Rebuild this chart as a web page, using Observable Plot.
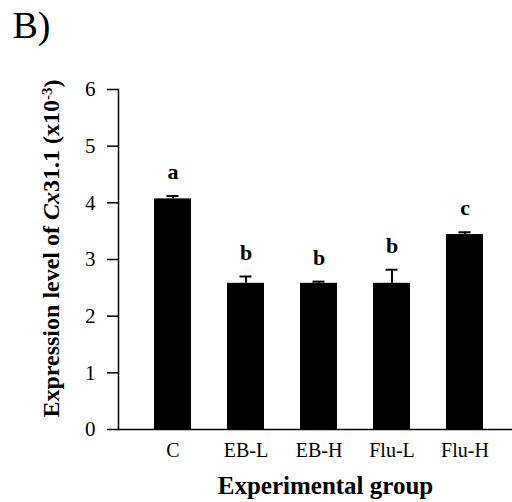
<!DOCTYPE html>
<html><head><meta charset="utf-8">
<script src="https://cdn.jsdelivr.net/npm/d3@7"></script>
<script src="https://cdn.jsdelivr.net/npm/@observablehq/plot@0.6"></script>
<style>body{margin:0;background:#fff} svg{display:block}</style>
</head><body><div id="chart"></div>
<script>
const groups = ["C", "EB-L", "EB-H", "Flu-L", "Flu-H"];
const means = [4.07, 2.58, 2.58, 2.58, 3.44];
const errors = [0.05, 0.12, 0.03, 0.24, 0.04];
const letters = ["a", "b", "b", "b", "c"];
const yTicks = [0, 1, 2, 3, 4, 5, 6];
const panelLabel = "B)";
const xTitle = "Experimental group";
const yTitle = "Expression level of Cx31.1 (x10-3)";

const data = groups.map((g, i) => ({group: g, mean: means[i], err: errors[i], top: means[i] + errors[i], letter: letters[i]}));

const chart = Plot.plot({
  width: 512,
  height: 502,
  marginLeft: 118,
  marginRight: 0,
  marginTop: 89,
  marginBottom: 73,
  style: {fontFamily: "'Liberation Serif', 'Times New Roman', serif", color: "black", background: "white"},
  x: {domain: groups, paddingInner: 0.497, paddingOuter: 0.43, align: 0.556, label: null},
  y: {domain: [0, 6], label: null},
  marks: [
    Plot.barY(data, {x: "group", y: "mean", fill: "black"}),
    Plot.ruleX(data, {x: "group", y1: "mean", y2: "top", stroke: "black", strokeWidth: 2}),
    Plot.tickY(data, {x: "group", y: "top", stroke: "black", strokeWidth: 2, insetLeft: 12.5, insetRight: 12.5}),
    Plot.text(data, {x: "group", y: "top", text: "letter", dy: -17, lineAnchor: "bottom", fontWeight: "bold", fontSize: 22}),
    Plot.axisY({ticks: yTicks, tickSize: 11, tickPadding: 12, fontSize: 21, tickFormat: d => String(d), strokeWidth: 1.5, label: null}),
    Plot.axisX({tickSize: 0, tickPadding: 13, fontSize: 20, label: null}),
    Plot.frame({anchor: "left", stroke: "black", strokeWidth: 1.5}),
    Plot.ruleY([0], {stroke: "black", strokeWidth: 1.5}),
    Plot.text([xTitle], {frameAnchor: "bottom", dx: 10, dy: 64, lineAnchor: "bottom", fontWeight: "bold", fontSize: 25}),
    Plot.text([yTitle], {frameAnchor: "left", textAnchor: "middle", rotate: -90, dx: -67, dy: -11, fontWeight: "bold", fontSize: 24}),
    Plot.text([panelLabel], {frameAnchor: "top-left", dx: -106, dy: -52, lineAnchor: "bottom", textAnchor: "start", fontSize: 38})
  ]
});
document.getElementById("chart").appendChild(chart);

// Rich formatting for the y title: italic gene name and superscript exponent
d3.select(chart).selectAll("text").each(function() {
  if (this.textContent !== yTitle) return;
  const yt = d3.select(this);
  yt.selectAll("*").remove();
  yt.text(null);
  yt.append("tspan").text("Expression level of ");
  yt.append("tspan").attr("font-style", "italic").text("Cx");
  yt.append("tspan").text("31.1 (x10");
  yt.append("tspan").attr("font-size", 15).attr("dy", "-0.45em").text("-3");
  yt.append("tspan").attr("dy", "0.3em").text(")");
});
</script>
</body></html>
